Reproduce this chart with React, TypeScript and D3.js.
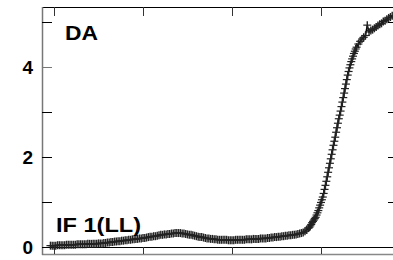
import React from "react";
import * as d3 from "d3";

// sample times (x units: ticks every 100) and DA signal values
const times = [
  -4, -2, 0, 2, 4, 6, 8, 10, 12, 14, 16, 18, 20, 22, 24, 26, 28, 30, 32, 34, 36,
  38, 40, 42, 44, 46, 48, 50, 52, 54, 56, 58, 60, 62, 64, 66, 68, 70, 72, 74, 76,
  78, 80, 82, 84, 86, 88, 90, 92, 94, 96, 98, 100, 102, 104, 106, 108, 110, 112,
  114, 116, 118, 120, 122, 124, 126, 128, 130, 132, 134, 136, 138, 140, 142, 144,
  146, 148, 150, 152, 154, 156, 158, 160, 162, 164, 166, 168, 170, 172, 174, 176,
  178, 180, 182, 184, 186, 188, 190, 192, 194, 196, 198, 200, 202, 204, 206, 208,
  210, 212, 214, 216, 218, 220, 222, 224, 226, 228, 230, 232, 234, 236, 238, 240,
  242, 244, 246, 248, 250, 252, 254, 256, 258, 260, 262, 264, 266, 268, 270, 272,
  274, 276, 278, 280, 282, 284, 286, 287, 288, 289, 290, 291, 292, 293, 294, 295,
  296, 297, 298, 299, 300, 301, 302, 303, 304, 305, 306, 307, 308, 309, 310, 311,
  312, 313, 314, 315, 316, 317, 318, 319, 320, 321, 322, 323, 324, 325, 326, 327,
  328, 329, 330, 331, 332, 333, 334, 335, 336, 337, 338, 339, 340, 342, 344, 346,
  348, 350, 352, 354, 356, 358, 360, 362, 364, 366, 368, 370, 372, 374, 376, 378,
  380,
];
const values = [
  0.03, 0.03, 0.03, 0.03, 0.04, 0.04, 0.04, 0.04, 0.04, 0.05, 0.05, 0.05, 0.05, 0.05,
  0.05, 0.06, 0.06, 0.06, 0.06, 0.06, 0.06, 0.07, 0.07, 0.07, 0.07, 0.07, 0.07, 0.08,
  0.08, 0.08, 0.09, 0.09, 0.1, 0.1, 0.11, 0.11, 0.12, 0.12, 0.13, 0.13, 0.14, 0.14,
  0.15, 0.15, 0.16, 0.16, 0.17, 0.17, 0.18, 0.18, 0.19, 0.19, 0.2, 0.2, 0.21, 0.22,
  0.23, 0.23, 0.24, 0.24, 0.25, 0.26, 0.27, 0.27, 0.28, 0.28, 0.29, 0.29, 0.3, 0.3,
  0.31, 0.31, 0.31, 0.31, 0.3, 0.3, 0.29, 0.28, 0.27, 0.27, 0.26, 0.25, 0.24, 0.23,
  0.22, 0.22, 0.21, 0.2, 0.19, 0.19, 0.18, 0.18, 0.17, 0.17, 0.16, 0.16, 0.16, 0.16,
  0.16, 0.16, 0.15, 0.15, 0.15, 0.15, 0.16, 0.16, 0.16, 0.16, 0.16, 0.16, 0.17, 0.17,
  0.17, 0.17, 0.18, 0.18, 0.18, 0.18, 0.19, 0.19, 0.19, 0.19, 0.2, 0.2, 0.21, 0.21,
  0.22, 0.22, 0.23, 0.23, 0.24, 0.24, 0.25, 0.25, 0.26, 0.26, 0.27, 0.27, 0.28, 0.29,
  0.3, 0.31, 0.32, 0.35, 0.38, 0.42, 0.44, 0.47, 0.5, 0.54, 0.57, 0.6, 0.63, 0.66,
  0.71, 0.76, 0.81, 0.87, 0.93, 0.99, 1.05, 1.11, 1.19, 1.28, 1.37, 1.46, 1.56, 1.66,
  1.76, 1.86, 1.96, 2.06, 2.16, 2.26, 2.35, 2.44, 2.55, 2.65, 2.75, 2.85, 2.93, 3.02,
  3.12, 3.22, 3.32, 3.42, 3.52, 3.62, 3.72, 3.82, 3.9, 3.98, 4.05, 4.12, 4.18, 4.24,
  4.3, 4.35, 4.4, 4.44, 4.51, 4.57, 4.62, 4.66, 4.7, 4.93, 4.78, 4.81, 4.83, 4.86,
  4.89, 4.92, 4.95, 4.97, 5.01, 5.03, 5.06, 5.09, 5.11, 5.14,
];

const xTicks = [0, 100, 200, 300];
const yTicks = [0, 1, 2, 3, 4, 5];
const yLabels = [0, 2, 4];

const W = 393;
const H = 260;

export default function App() {
  const x = d3.scaleLinear().domain([0, 100]).range([54, 143]);
  const y = d3.scaleLinear().domain([0, 5.333]).range([247, 7]);
  const left = 42;
  const right = 398;
  const top = 7;
  const bottom = 254;

  const pts: [number, number][] = times.map((t, i) => [x(t), y(values[i])]);
  const line = d3.line()(pts) || "";

  const font = "'Liberation Sans', Arial, sans-serif";

  return (
    <svg
      width={W}
      height={H}
      style={{ position: "absolute", left: 0, top: 0, background: "#fff" }}
    >
      {/* frame */}
      <line x1={left} x2={W} y1={top + 0.5} y2={top + 0.5} stroke="#000" strokeWidth={1} />
      <line x1={left} x2={W} y1={y(0) + 0.5} y2={y(0) + 0.5} stroke="#000" strokeWidth={1} />
      <line x1={left} x2={W} y1={bottom + 0.5} y2={bottom + 0.5} stroke="#888" strokeWidth={1.5} />
      <line x1={left + 0.5} x2={left + 0.5} y1={top} y2={bottom + 1} stroke="#777" strokeWidth={1.5} />

      {/* x ticks */}
      {xTicks.map((t) => (
        <g key={"xt" + t}>
          <line x1={Math.round(x(t)) + 0.5} x2={Math.round(x(t)) + 0.5} y1={top} y2={top + 9} stroke="#333" />
          <line x1={Math.round(x(t)) + 0.5} x2={Math.round(x(t)) + 0.5} y1={y(0)} y2={bottom} stroke="#333" />
        </g>
      ))}

      {/* y ticks */}
      {yTicks.map((v) => (
        <g key={"yt" + v}>
          <line x1={left} x2={left + 10} y1={Math.round(y(v)) + 0.5} y2={Math.round(y(v)) + 0.5} stroke={v === 4 ? "#777" : "#000"} />
          <line x1={right - 10} x2={right} y1={Math.round(y(v)) + 0.5} y2={Math.round(y(v)) + 0.5} stroke="#000" />
        </g>
      ))}
      {yLabels.map((v) => (
        <text
          key={"yl" + v}
          x={33}
          y={y(v) + 7}
          textAnchor="end"
          fontFamily={font}
          fontWeight="bold"
          fontSize={19}
          fill="#000"
        >
          {v}
        </text>
      ))}

      {/* series */}
      <path d={line} fill="none" stroke="#000" strokeWidth={1.5} />
      {pts.map(([px, py], i) => (
        <g key={i}>
          <path d={`M${px - 4},${py}H${px + 4}`} stroke="#222" strokeWidth={1.2} />
          <path d={`M${px},${py - 4}V${py + 4}`} stroke="#222" strokeWidth={1.4} />
        </g>
      ))}

      {/* labels */}
      <text x={65} y={40} fontFamily={font} fontWeight="bold" fontSize={21} fill="#000" textLength={33} lengthAdjust="spacingAndGlyphs">
        DA
      </text>
      <text
        x={56}
        y={232}
        fontFamily={font}
        fontWeight="bold"
        fontSize={20}
        fill="#000"
        textLength={85}
        lengthAdjust="spacingAndGlyphs"
      >
        IF 1(LL)
      </text>
    </svg>
  );
}
